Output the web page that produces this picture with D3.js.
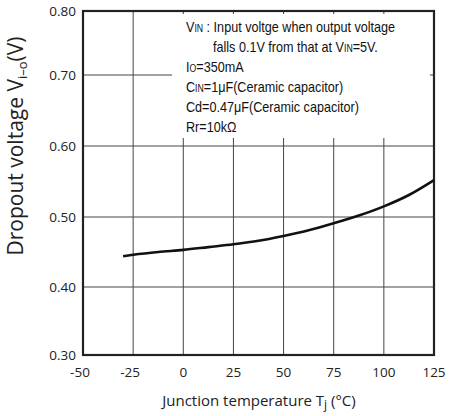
<!DOCTYPE html>
<html>
<head>
<meta charset="utf-8">
<script src="https://cdn.jsdelivr.net/npm/d3@7"></script>
<style>
  body { margin: 0; background: #fff; }
  svg { display: block; }
</style>
</head>
<body>
<div id="chart"></div>
<script>
// data
var tempTicks = [-50, -25, 0, 25, 50, 75, 100, 125];
var voltTicks = [0.30, 0.40, 0.50, 0.60, 0.70, 0.80];
var temps = [-30, -25, -12.5, 0, 12.5, 25, 37.5, 50, 62.5, 75, 87.5, 100, 112.5, 125];
var dropout = [0.444, 0.446, 0.450, 0.453, 0.457, 0.461, 0.466, 0.473, 0.481, 0.491, 0.502, 0.515, 0.531, 0.552];
var notes = [
  ["V", "IN", " : Input voltge when output voltage"],
  ["falls 0.1V from that at V", "IN", "=5V."],
  ["I", "O", "=350mA"],
  ["C", "IN", "=1μF(Ceramic capacitor)"],
  ["Cd=0.47μF(Ceramic capacitor)"],
  ["Rr=10kΩ"]
];

var W = 453, H = 416;
var left = 83, right = 434;

var svg = d3.select("#chart").append("svg")
    .attr("width", W)
    .attr("height", H);

var x = d3.scaleLinear().domain([-50, 125]).range([left, right]);
// the scan is a bit uneven vertically, so use a polylinear scale
var y = d3.scaleLinear()
    .domain(voltTicks)
    .range([355, 287, 217, 146, 75, 11]);

var grid = svg.append("g").attr("stroke", "#444").attr("stroke-width", 1);

// vertical grid lines (upper part hidden by the note box, except -25)
tempTicks.slice(1, -1).forEach(function (t) {
    grid.append("line")
        .attr("x1", x(t)).attr("x2", x(t))
        .attr("y1", t === -25 ? y(0.8) : y(0.6) - 8)
        .attr("y2", y(0.3));
    if (t !== -25) {
        grid.append("line")
            .attr("x1", x(t)).attr("x2", x(t))
            .attr("y1", y(0.8)).attr("y2", y(0.8) + 3);
    }
});

// horizontal grid lines
voltTicks.slice(1, -1).forEach(function (v) {
    if (v === 0.7) {
        grid.append("line")
            .attr("x1", x(-50)).attr("x2", 172)
            .attr("y1", y(v)).attr("y2", y(v));
        grid.append("line")
            .attr("x1", x(125) - 4).attr("x2", x(125))
            .attr("y1", y(v)).attr("y2", y(v));
    } else {
        grid.append("line")
            .attr("x1", x(-50)).attr("x2", x(125))
            .attr("y1", y(v)).attr("y2", y(v));
    }
});

// frame
svg.append("rect")
    .attr("x", x(-50)).attr("y", y(0.8))
    .attr("width", x(125) - x(-50))
    .attr("height", y(0.3) - y(0.8))
    .attr("fill", "none")
    .attr("stroke", "#222")
    .attr("stroke-width", 2.2);

// curve
var line = d3.line()
    .x(function (d) { return x(d[0]); })
    .y(function (d) { return y(d[1]); })
    .curve(d3.curveMonotoneX);

svg.append("path")
    .datum(d3.zip(temps, dropout))
    .attr("d", line)
    .attr("fill", "none")
    .attr("stroke", "#111")
    .attr("stroke-width", 2.6);

// tick labels
var tickFont = "'Open Sans', 'Noto Sans', sans-serif";
svg.append("g").selectAll("text")
    .data(voltTicks)
    .enter().append("text")
    .attr("x", 76)
    .attr("y", function (d) { return y(d) + 5; })
    .attr("text-anchor", "end")
    .style("font-family", tickFont)
    .style("font-size", "13.5px")
    .attr("fill", "#222")
    .text(function (d) { return d.toFixed(2); });

svg.append("g").selectAll("text")
    .data(tempTicks)
    .enter().append("text")
    .attr("x", function (d) { return x(d) - (d < 0 ? 3 : 0); })
    .attr("y", 377)
    .attr("text-anchor", "middle")
    .style("font-family", tickFont)
    .style("font-size", "13.5px")
    .attr("fill", "#222")
    .text(function (d) { return d; });

// x title
var xt = svg.append("text")
    .attr("x", 259).attr("y", 406)
    .attr("text-anchor", "middle")
    .style("font-family", tickFont)
    .style("font-size", "15px")
    .attr("fill", "#222");
xt.append("tspan").text("Junction temperature T");
xt.append("tspan").attr("dy", 3).style("font-size", "12px").text("j");
xt.append("tspan").attr("dy", -3).text(" (°C)");

// y title
var yt = svg.append("text")
    .attr("transform", "translate(23," + 146 + ") rotate(-90)")
    .attr("text-anchor", "middle")
    .style("font-family", tickFont)
    .style("font-size", "21px")
    .attr("fill", "#222");
yt.append("tspan").text("Dropout voltage V");
yt.append("tspan").attr("dy", 4).style("font-size", "13px").text("i–o");
yt.append("tspan").attr("dy", -4).text("(V)");

// notes, drawn condensed like the original
var noteFont = "'Liberation Sans Narrow', 'Liberation Sans', sans-serif";
var sx = 0.87;
var noteX = [186, 213, 186, 186, 186, 186];
var noteG = svg.append("g")
    .attr("transform", "translate(186,0) scale(" + sx + ",1)");
notes.forEach(function (parts, i) {
    var t = noteG.append("text")
        .attr("x", (noteX[i] - 186) / sx)
        .attr("y", 32 + i * 20)
        .style("font-family", noteFont)
        .style("font-size", "14.5px")
        .attr("fill", "#111");
    parts.forEach(function (p, j) {
        var sub = parts.length > 1 && j === 1;
        t.append("tspan")
            .style("font-size", sub ? "10px" : "14.5px")
            .text(p);
    });
});
</script>
</body>
</html>
